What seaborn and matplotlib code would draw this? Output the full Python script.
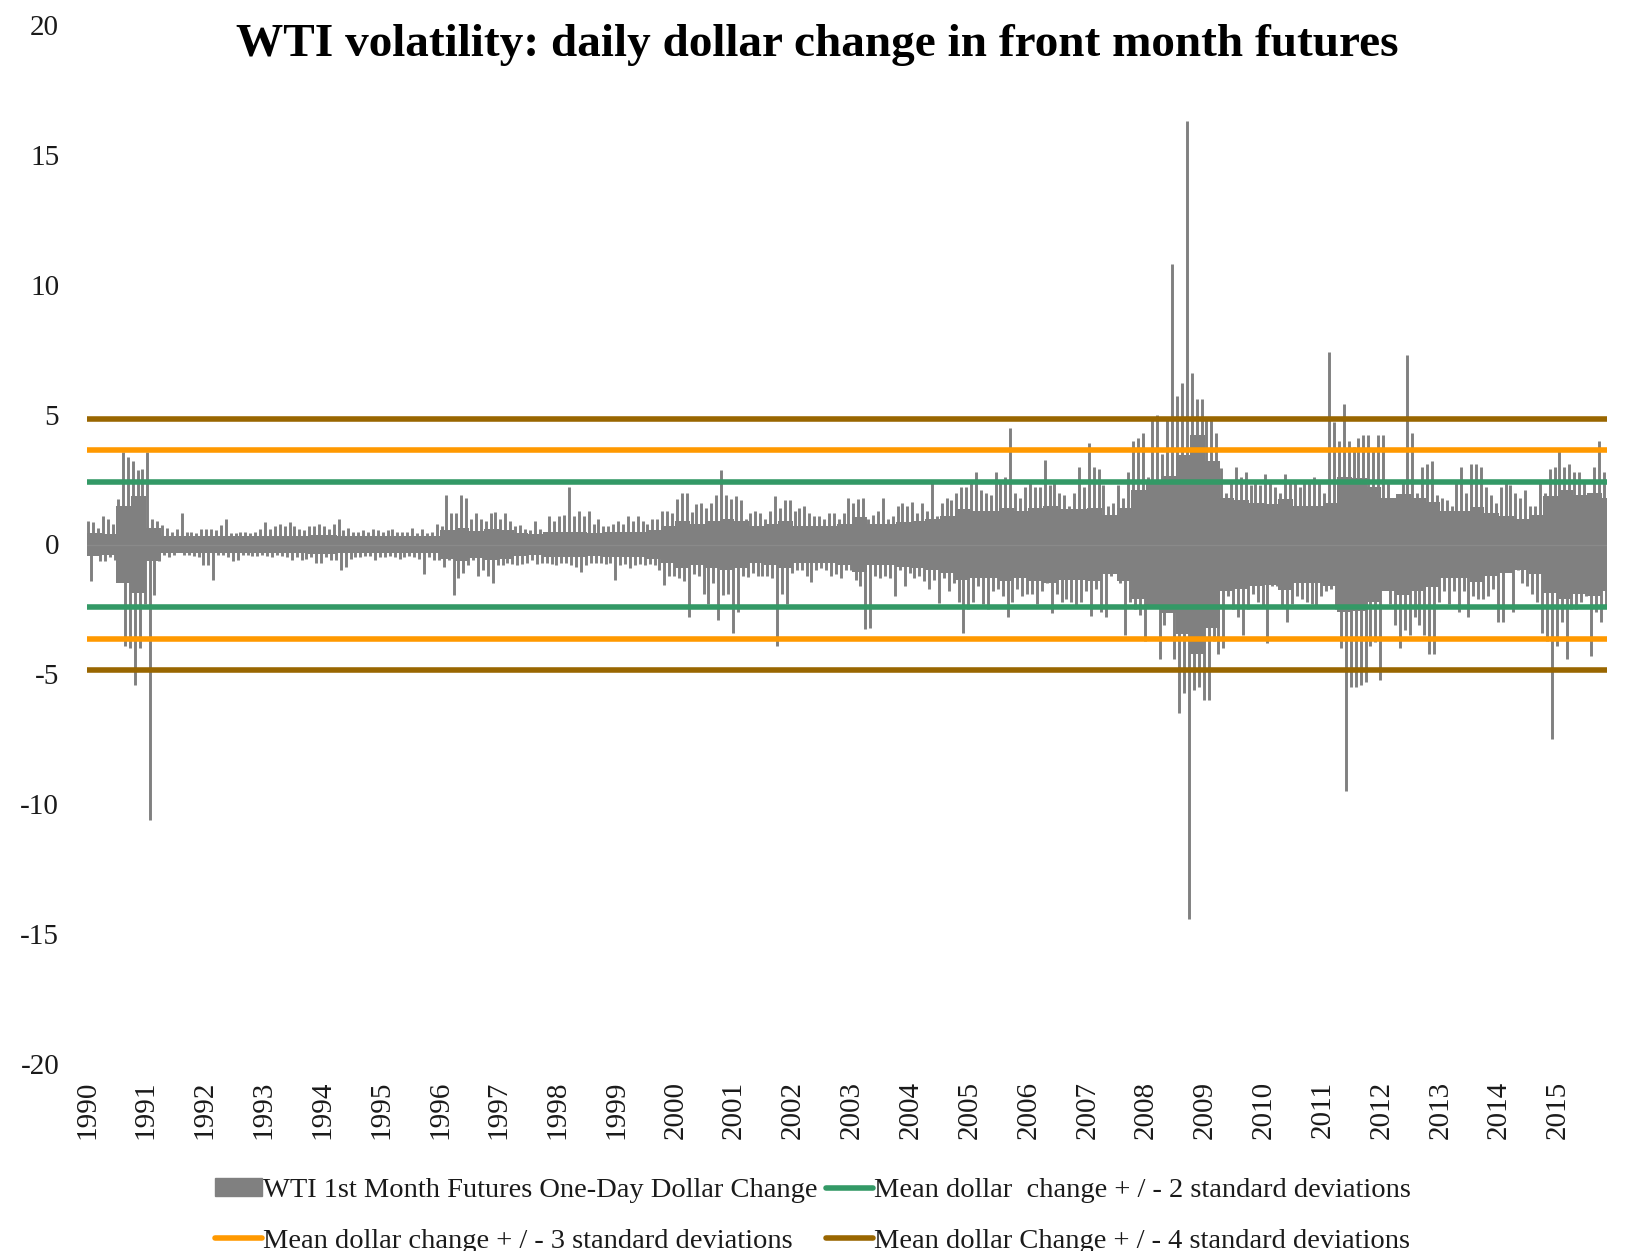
#!/usr/bin/env python3
"""
WTI volatility chart: daily dollar change in front month futures,
with mean +/- 2, 3 and 4 standard deviation bands.
"""

import numpy as np
import pandas as pd
import matplotlib
matplotlib.use("Agg")
import matplotlib.pyplot as plt
import seaborn as sns
from matplotlib.patches import Patch
from matplotlib.lines import Line2D

years = list(range(1990, 2016))

# largest up-move in each month ($/bbl)
up_1990 = [0.9, 0.85, 0.65, 1.1, 1.0, 0.8, 1.75, 3.55, 3.35, 3.2, 2.85, 2.9]
up_1991 = [3.55, 1.0, 0.9, 0.75, 0.65, 0.5, 0.6, 1.2, 0.5, 0.5, 0.45, 0.6]
up_1992 = [0.6, 0.6, 0.55, 0.75, 1.0, 0.45, 0.45, 0.5, 0.5, 0.45, 0.5, 0.6]
up_1993 = [0.85, 0.6, 0.7, 0.8, 0.7, 0.85, 0.7, 0.6, 0.55, 0.7, 0.7, 0.8]
up_1994 = [0.7, 0.6, 0.8, 1.0, 0.55, 0.65, 0.5, 0.5, 0.55, 0.5, 0.6, 0.55]
up_1995 = [0.5, 0.55, 0.6, 0.5, 0.5, 0.5, 0.65, 0.45, 0.6, 0.45, 0.5, 0.8]
up_1996 = [0.7, 1.9, 1.2, 1.2, 1.9, 1.8, 1.0, 1.2, 1.0, 0.9, 1.2, 1.27]
up_1997 = [1.0, 1.2, 0.9, 0.7, 0.75, 0.6, 0.55, 0.9, 0.6, 0.5, 1.1, 0.9]
up_1998 = [1.1, 1.15, 2.2, 1.1, 1.3, 1.1, 1.3, 0.8, 1.0, 0.7, 0.7, 0.8]
up_1999 = [0.9, 0.8, 1.1, 0.9, 1.1, 0.9, 0.8, 1.0, 1.0, 1.3, 1.3, 1.2]
up_2000 = [1.75, 2.0, 2.0, 1.25, 1.55, 1.6, 1.4, 1.6, 1.9, 2.85, 1.9, 1.75]
up_2001 = [1.85, 1.7, 1.0, 1.2, 1.3, 1.2, 1.0, 1.3, 1.85, 1.4, 1.7, 1.7]
up_2002 = [1.3, 1.4, 1.5, 1.2, 1.1, 1.1, 1.0, 1.2, 1.2, 1.0, 1.2, 1.8]
up_2003 = [1.6, 1.75, 1.8, 1.0, 1.15, 1.3, 1.8, 1.0, 1.1, 1.5, 1.6, 1.5]
up_2004 = [1.65, 1.2, 1.6, 1.3, 2.4, 1.1, 1.6, 1.8, 1.7, 2.0, 2.2, 2.2]
up_2005 = [2.5, 2.8, 2.1, 2.0, 1.9, 2.8, 2.4, 2.6, 4.5, 2.0, 1.8, 2.2]
up_2006 = [2.5, 2.2, 2.2, 3.25, 2.3, 2.4, 2.0, 1.9, 1.5, 2.0, 3.0, 2.2]
up_2007 = [3.9, 3.0, 2.9, 2.3, 1.5, 1.6, 2.3, 1.8, 2.8, 4.0, 4.1, 4.3]
up_2008 = [2.6, 4.9, 5.0, 3.5, 4.8, 10.8, 5.7, 6.2, 16.3, 6.6, 5.6, 5.6]
up_2009 = [4.8, 4.8, 4.3, 2.95, 2.0, 2.5, 3.0, 2.6, 2.8, 2.3, 2.5, 2.3]
up_2010 = [2.7, 2.4, 2.2, 2.0, 2.7, 2.4, 2.5, 2.2, 2.5, 2.4, 2.6, 2.4]
up_2011 = [2.0, 7.4, 4.7, 4.0, 5.4, 4.0, 3.75, 4.1, 4.2, 4.2, 3.6, 4.2]
up_2012 = [4.2, 2.4, 1.8, 1.8, 2.4, 7.3, 4.3, 2.0, 3.0, 3.1, 3.2, 1.9]
up_2013 = [1.8, 1.7, 1.5, 2.5, 3.0, 2.0, 3.1, 3.1, 3.0, 2.2, 1.9, 1.6]
up_2014 = [2.2, 2.4, 2.3, 2.0, 1.8, 2.1, 1.5, 1.5, 2.4, 2.0, 2.9, 3.0]
up_2015 = [3.6, 3.0, 3.1, 2.8, 2.8, 2.5, 2.0, 3.0, 4.0, 2.8]

# largest down-move in each month ($/bbl)
dn_1990 = [-1.4, -0.4, -0.65, -0.65, -0.5, -0.6, -0.5, -3.9, -4.0, -5.4, -4.0, -2.3]
dn_1991 = [-10.6, -1.95, -0.65, -0.4, -0.5, -0.4, -0.3, -0.4, -0.4, -0.45, -0.5, -0.8]
dn_1992 = [-0.8, -1.35, -0.4, -0.4, -0.5, -0.65, -0.6, -0.4, -0.4, -0.45, -0.45, -0.4]
dn_1993 = [-0.45, -0.5, -0.4, -0.45, -0.5, -0.6, -0.5, -0.6, -0.55, -0.5, -0.7, -0.7]
dn_1994 = [-0.5, -0.6, -0.6, -1.0, -0.85, -0.55, -0.5, -0.5, -0.45, -0.45, -0.6, -0.5]
dn_1995 = [-0.5, -0.45, -0.5, -0.55, -0.5, -0.45, -0.5, -0.55, -1.15, -0.5, -0.6, -0.6]
dn_1996 = [-0.85, -0.6, -1.95, -1.3, -1.1, -0.8, -0.6, -1.2, -1.0, -1.2, -1.5, -0.8]
dn_1997 = [-0.8, -0.7, -0.75, -0.8, -0.75, -0.7, -0.6, -0.75, -0.7, -0.7, -0.75, -0.8]
dn_1998 = [-0.7, -0.7, -0.8, -0.85, -1.05, -0.8, -0.7, -0.7, -0.7, -0.75, -0.7, -1.35]
dn_1999 = [-0.8, -0.75, -0.9, -0.8, -0.75, -0.8, -0.75, -0.8, -1.0, -1.55, -1.2, -1.2]
dn_2000 = [-1.3, -1.4, -2.8, -1.15, -1.2, -1.9, -2.3, -1.5, -2.9, -1.95, -1.9, -3.4]
dn_2001 = [-2.6, -1.2, -1.25, -1.1, -1.2, -1.2, -1.2, -1.3, -3.9, -1.9, -2.3, -1.1]
dn_2002 = [-1.0, -1.0, -1.2, -1.45, -1.0, -0.9, -1.0, -1.2, -1.15, -1.3, -1.0, -1.0]
dn_2003 = [-1.35, -1.6, -3.25, -3.2, -1.2, -1.3, -1.2, -1.3, -2.0, -1.0, -1.6, -1.1]
dn_2004 = [-1.3, -1.2, -1.4, -1.7, -1.35, -2.25, -1.3, -1.8, -1.5, -2.2, -3.4, -2.5]
dn_2005 = [-2.2, -1.6, -2.3, -2.5, -1.8, -1.7, -2.0, -2.8, -2.2, -1.7, -2.0, -1.9]
dn_2006 = [-1.9, -2.3, -1.8, -1.5, -2.65, -1.9, -2.2, -2.1, -2.2, -2.4, -2.2, -1.8]
dn_2007 = [-2.75, -1.7, -2.6, -2.8, -1.2, -1.0, -1.5, -3.5, -2.2, -2.5, -2.7, -3.7]
dn_2008 = [-2.4, -2.0, -4.4, -3.1, -1.9, -4.4, -6.5, -5.7, -14.4, -5.6, -5.5, -6.0]
dn_2009 = [-6.0, -3.7, -4.2, -4.0, -2.0, -2.5, -2.8, -3.5, -2.5, -1.9, -2.2, -2.4]
dn_2010 = [-3.8, -1.6, -1.6, -2.4, -3.0, -2.3, -2.0, -2.1, -2.2, -2.3, -2.4, -2.0]
dn_2011 = [-1.8, -1.7, -2.5, -4.0, -9.5, -5.5, -5.5, -5.4, -5.3, -3.9, -3.75, -5.2]
dn_2012 = [-1.5, -2.3, -3.1, -4.0, -3.3, -3.5, -2.8, -3.1, -3.5, -4.2, -4.2, -2.2]
dn_2013 = [-1.8, -2.3, -1.8, -2.6, -1.8, -2.8, -2.0, -2.1, -2.1, -2.0, -1.7, -3.0]
dn_2014 = [-3.0, -1.0, -2.6, -1.0, -1.5, -1.6, -1.9, -2.2, -3.4, -3.7, -7.5, -3.9]
dn_2015 = [-3.0, -4.4, -2.5, -2.5, -2.2, -2.0, -4.3, -2.6, -3.0, -2.4]

# typical daily swing (dense part of the series) per quarter, +/- $/bbl
body_1990 = [0.45, 0.42, 1.5, 1.85]
body_1991 = [0.65, 0.33, 0.33, 0.33]
body_1992 = [0.33, 0.33, 0.32, 0.32]
body_1993 = [0.33, 0.34, 0.34, 0.35]
body_1994 = [0.35, 0.33, 0.33, 0.33]
body_1995 = [0.33, 0.32, 0.33, 0.33]
body_1996 = [0.55, 0.62, 0.52, 0.6]
body_1997 = [0.55, 0.45, 0.42, 0.47]
body_1998 = [0.47, 0.5, 0.45, 0.47]
body_1999 = [0.5, 0.5, 0.55, 0.7]
body_2000 = [0.9, 0.8, 0.9, 1.0]
body_2001 = [0.9, 0.7, 0.77, 0.9]
body_2002 = [0.72, 0.7, 0.7, 0.77]
body_2003 = [1.05, 0.8, 0.8, 0.85]
body_2004 = [0.9, 1.0, 1.1, 1.35]
body_2005 = [1.3, 1.3, 1.4, 1.3]
body_2006 = [1.4, 1.5, 1.35, 1.35]
body_2007 = [1.4, 1.15, 1.4, 2.1]
body_2008 = [2.35, 2.65, 3.45, 4.2]
body_2009 = [3.2, 1.8, 1.7, 1.6]
body_2010 = [1.55, 1.75, 1.5, 1.5]
body_2011 = [1.6, 2.6, 2.55, 2.2]
body_2012 = [1.8, 1.95, 1.8, 1.65]
body_2013 = [1.3, 1.3, 1.45, 1.2]
body_2014 = [1.1, 1.0, 1.15, 1.85]
body_2015 = [2.1, 1.9, 2.0, 1.8]

# band parameters
band_mean = 0.0
band_sd = 1.21

up_moves = [up_1990, up_1991, up_1992, up_1993, up_1994, up_1995, up_1996,
            up_1997, up_1998, up_1999, up_2000, up_2001, up_2002, up_2003,
            up_2004, up_2005, up_2006, up_2007, up_2008, up_2009, up_2010,
            up_2011, up_2012, up_2013, up_2014, up_2015]
down_moves = [dn_1990, dn_1991, dn_1992, dn_1993, dn_1994, dn_1995, dn_1996,
              dn_1997, dn_1998, dn_1999, dn_2000, dn_2001, dn_2002, dn_2003,
              dn_2004, dn_2005, dn_2006, dn_2007, dn_2008, dn_2009, dn_2010,
              dn_2011, dn_2012, dn_2013, dn_2014, dn_2015]
body_swings = [body_1990, body_1991, body_1992, body_1993, body_1994, body_1995,
               body_1996, body_1997, body_1998, body_1999, body_2000, body_2001,
               body_2002, body_2003, body_2004, body_2005, body_2006, body_2007,
               body_2008, body_2009, body_2010, body_2011, body_2012, body_2013,
               body_2014, body_2015]

GRAY = "#808080"
GREEN = "#339966"
ORANGE = "#FF9900"
BROWN = "#996600"
SERIF = ["Liberation Serif", "DejaVu Serif"]


def build_frames():
    """Turn the per-year lists into monthly / quarterly frames."""
    rows = []
    for yr, ups, downs in zip(years, up_moves, down_moves):
        for m, (u, d) in enumerate(zip(ups, downs)):
            rows.append({"start": yr + m / 12, "up": u, "down": d})
    monthly = pd.DataFrame(rows)

    qrows = []
    for yr, qs in zip(years, body_swings):
        for q, w in enumerate(qs):
            qrows.append({"start": yr + q / 4, "swing": w})
    quarterly = pd.DataFrame(qrows)
    return monthly, quarterly


def main():
    monthly, quarterly = build_frames()
    x_end = monthly["start"].iloc[-1] + 1 / 12
    quarterly = quarterly[quarterly["start"] < x_end]
    # close the last step at the end of the series
    qx = np.append(quarterly["start"].values, x_end)
    qw = np.append(quarterly["swing"].values, quarterly["swing"].values[-1])

    sns.set_theme(style="white")
    plt.rcParams["font.family"] = SERIF
    plt.rcParams["axes.unicode_minus"] = False

    fig = plt.figure(figsize=(16.32, 12.51), dpi=100)
    ax = fig.add_axes([87 / 1632, 1 - 1064 / 1251, 1520 / 1632, 1039 / 1251])

    # dense part of the daily series
    ax.fill_between(qx, -qw, qw, step="post", color=GRAY, lw=0, zorder=2)
    # monthly extreme moves as thin spikes
    ax.vlines(monthly["start"] + 0.3 / 12, 0, monthly["up"],
              color=GRAY, lw=2.1, zorder=2)
    ax.vlines(monthly["start"] + 0.75 / 12, monthly["down"], 0,
              color=GRAY, lw=2.1, zorder=2)
    ax.axhline(0, color="#8a8a8a", lw=1, zorder=2.5)

    # mean +/- k standard deviation lines
    band_rows = []
    for k in (2, 3, 4):
        for side in (1, -1):
            for xv in (1990.0, x_end):
                band_rows.append({"x": xv, "y": band_mean + side * k * band_sd,
                                  "band": f"{k} sd", "side": side})
    bands = pd.DataFrame(band_rows)
    sns.lineplot(data=bands, x="x", y="y", hue="band", units="side",
                 estimator=None, palette=[GREEN, ORANGE, BROWN],
                 lw=4, legend=False, ax=ax, zorder=3)

    ax.set_xlim(1990, x_end)
    ax.set_ylim(-20, 20)
    ax.set_yticks(np.arange(-20, 21, 5))
    ax.set_xticks(years)
    ax.set_xticklabels([str(y) for y in years], rotation=90)
    ax.tick_params(axis="x", length=0, pad=12, labelsize=21, colors="#1a1a1a")
    ax.tick_params(axis="y", length=0, pad=20, labelsize=21, colors="#1a1a1a")
    ax.set_xlabel("")
    ax.set_ylabel("")
    sns.despine(ax=ax, left=True, bottom=True)
    ax.grid(False)

    fig.text(817 / 1632, 1 - 45 / 1251,
             "WTI volatility: daily dollar change in front month futures",
             ha="center", va="center", fontsize=34, fontweight="bold",
             family=SERIF, color="black")

    handles = [
        Patch(facecolor=GRAY, edgecolor=GRAY),
        Line2D([], [], color=ORANGE, lw=4),
        Line2D([], [], color=GREEN, lw=4),
        Line2D([], [], color=BROWN, lw=4),
    ]
    labels = [
        "WTI 1st Month Futures One-Day Dollar Change",
        "Mean dollar change + / - 3 standard deviations",
        "Mean dollar  change + / - 2 standard deviations",
        "Mean dollar Change + / - 4 standard deviations",
    ]
    fig.legend(handles, labels, loc="center", ncol=2,
               bbox_to_anchor=(813 / 1632, 1 - 1216 / 1251),
               frameon=False, fontsize=20.5, handlelength=1.65,
               handleheight=0.6, handletextpad=0.05, columnspacing=0.3,
               labelspacing=0.9, borderpad=0, labelcolor="#1a1a1a")

    fig.savefig("out.png", dpi=100)
    plt.close(fig)


if __name__ == "__main__":
    main()
